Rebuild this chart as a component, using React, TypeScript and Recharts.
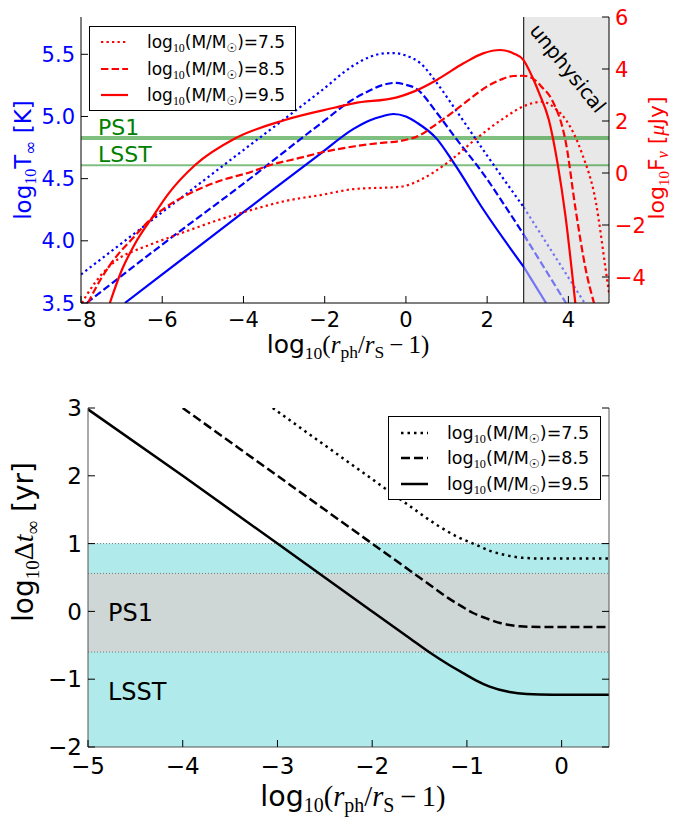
import React from "react";
import {
  ComposedChart,
  Line,
  XAxis,
  YAxis,
  ReferenceLine,
  ReferenceArea,
  Legend,
} from "recharts";

type Pt = [number, number];

const SANS = "'DejaVu Sans', sans-serif";
const SERIF = "'Liberation Serif', 'DejaVu Serif', serif";
const RED = "#ff0000";
const BLUE = "#0000ff";
const GREEN = "#008000";

// ---------- data ----------
const masses = ["7.5", "8.5", "9.5"];

// upper panel: x = log10(r_ph/r_S - 1)
const upperXTicks = [-8, -6, -4, -2, 0, 2, 4];
const tempTicks = [3.5, 4.0, 4.5, 5.0, 5.5];
const fluxTicks = [-4, -2, 0, 2, 4, 6];
const unphysicalFrom = 2.9;
const ps1Flux = 1.35;
const lsstFlux = 0.3;

// log10 T_inf [K]
const temp75: Pt[] = [
  [-8, 3.73], [-6, 4.23], [-4, 4.73], [-2.11, 5.2], [-1.29, 5.41], [-0.88, 5.48],
  [-0.6, 5.505], [-0.31, 5.51], [0, 5.49], [0.35, 5.43], [0.76, 5.27], [1.17, 5.08],
  [1.99, 4.69], [2.9, 4.27],
];
const temp85: Pt[] = [
  [-7.86, 3.5], [-6, 3.97], [-4, 4.46], [-2.11, 4.94], [-1.29, 5.14], [-0.88, 5.21],
  [-0.6, 5.25], [-0.27, 5.27], [0, 5.255], [0.27, 5.22], [0.76, 5.03], [1.17, 4.85],
  [1.99, 4.5], [2.4, 4.3], [2.9, 4.05],
];
const temp95: Pt[] = [
  [-6.92, 3.5], [-6, 3.73], [-4, 4.23], [-2.11, 4.7], [-1.29, 4.9], [-0.88, 4.97],
  [-0.6, 5.0], [-0.31, 5.02], [0, 5.0], [0.27, 4.95], [0.76, 4.82], [1.17, 4.63],
  [1.91, 4.25], [2.9, 3.79],
];
// continuation inside the unphysical region
const temp75Unphys: Pt[] = [[2.9, 4.27], [4.4, 3.5]];
const temp85Unphys: Pt[] = [[2.9, 4.05], [3.94, 3.5]];
const temp95Unphys: Pt[] = [[2.9, 3.79], [3.45, 3.5]];

// log10 F_nu [uJy]
const flux75: Pt[] = [
  [-7.98, -5], [-7.66, -4.23], [-7.34, -3.65], [-7.0, -3.22], [-6.7, -3.0], [-6.34, -2.78],
  [-5.44, -2.26], [-4.62, -1.81], [-3.8, -1.42], [-2.98, -1.08], [-2.11, -0.85],
  [-1.29, -0.62], [-0.14, -0.53], [0.35, -0.27], [1.0, 0.37], [1.74, 1.33], [2.4, 2.1],
  [2.98, 2.62], [3.35, 2.74], [3.7, 2.45], [3.94, 2.04], [4.33, 0.77], [4.68, -1.15],
  [4.92, -3.73], [5.0, -4.6],
];
const flux85: Pt[] = [
  [-7.83, -5], [-7.5, -4.05], [-7.15, -3.25], [-6.75, -2.55], [-6.26, -1.74], [-5.85, -1.25],
  [-5.44, -0.88], [-4.63, -0.33], [-3.8, 0.05], [-3.39, 0.28], [-2.56, 0.6], [-2.11, 0.78],
  [-1.74, 0.9], [-1.29, 1.02], [-0.6, 1.16], [-0.14, 1.23], [0.35, 1.46], [0.75, 1.88],
  [1.17, 2.36], [1.6, 2.88], [1.99, 3.32], [2.35, 3.6], [2.65, 3.73], [2.89, 3.74],
  [3.11, 3.65], [3.35, 3.3], [3.6, 2.8], [3.94, 1.15], [4.18, -1.42], [4.43, -3.73],
  [4.63, -5],
];
const flux95: Pt[] = [
  [-7.29, -5], [-7.0, -3.75], [-6.67, -2.72], [-6.26, -1.74], [-5.85, -0.8], [-5.19, 0.31],
  [-4.21, 1.33], [-2.98, 2.04], [-1.74, 2.52], [-1.29, 2.68], [-0.22, 2.91], [0.19, 3.13],
  [0.76, 3.58], [1.42, 4.22], [1.9, 4.6], [2.32, 4.73], [2.65, 4.6], [2.89, 4.35],
  [3.11, 3.7], [3.28, 3.07], [3.52, 2.04], [3.74, 0.31], [3.93, -1.68], [4.17, -5],
];

// lower panel
const lowerXTicks = [-5, -4, -3, -2, -1, 0];
const dtTicks = [-2, -1, 0, 1, 2, 3];
const lsstBand: Pt = [-2, 1];
const ps1Band: Pt = [-0.6, 0.56];

// log10 Delta t_inf [yr]
const dt75: Pt[] = [
  [-3.05, 3.0], [-2.5, 2.45], [-2, 1.95], [-1.6, 1.55], [-1.3, 1.26], [-1.1, 1.1],
  [-0.9, 0.98], [-0.75, 0.89], [-0.62, 0.84], [-0.41, 0.79], [-0.2, 0.78], [0.5, 0.78],
];
const dt85: Pt[] = [
  [-4.0, 3.0], [-3, 2.0], [-2, 1.0], [-1.6, 0.6], [-1.39, 0.39], [-1.2, 0.2], [-1.05, 0.07],
  [-0.94, -0.02], [-0.8, -0.1], [-0.65, -0.17], [-0.44, -0.22], [-0.2, -0.23], [0.5, -0.23],
];
const dt95: Pt[] = [
  [-5, 2.98], [-4, 2.0], [-3, 1.0], [-2, 0.0], [-1.6, -0.4], [-1.4, -0.6], [-1.2, -0.78],
  [-1.04, -0.91], [-0.9, -1.02], [-0.76, -1.11], [-0.55, -1.19], [-0.37, -1.22],
  [-0.1, -1.23], [0.5, -1.23],
];

const upperTemp = [temp75, temp85, temp95];
const upperTempUnphys = [temp75Unphys, temp85Unphys, temp95Unphys];
const upperFlux = [flux75, flux85, flux95];
const lowerDt = [dt75, dt85, dt95];

// ---------- helpers ----------
const rows = (pts: Pt[]) => pts.map(([x, y]) => ({ x, y }));
const minus = (s: string) => s.replace("-", "\u2212");
const upperDash = ["2.3 3.2", "7.4 3.2", undefined];
const lowerDash = ["2.5 4", "9 4", undefined];

// inward-pointing tick + label (matplotlib classic style)
function Tick(props: any) {
  const { x, y, payload, tkSide, tkDigits = 0, tkFont = 21, tkColor = "#000", tkGap = 0, tkLen = 7, tkLine = "#000", tkNoLabel } = props;
  const label = minus(Number(payload.value).toFixed(tkDigits));
  const txt = { fontFamily: SANS, fontSize: tkFont, fill: tkColor } as any;
  if (tkSide === "bottom") {
    return (
      <g>
        <line x1={x} x2={x} y1={y} y2={y - tkLen} stroke={tkLine} />
        {!tkNoLabel && (
          <text x={x} y={y + tkGap} textAnchor="middle" {...txt}>
            {label}
          </text>
        )}
      </g>
    );
  }
  if (tkSide === "top") {
    return <line x1={x} x2={x} y1={y} y2={y + tkLen} stroke={tkLine} />;
  }
  if (tkSide === "left") {
    return (
      <g>
        <line x1={x} x2={x + tkLen} y1={y} y2={y} stroke={tkLine} />
        <text x={x - tkGap} y={y + tkFont * 0.36} textAnchor="end" {...txt}>
          {label}
        </text>
      </g>
    );
  }
  return (
    <g>
      <line x1={x} x2={x - tkLen} y1={y} y2={y} stroke={tkLine} />
      {!tkNoLabel && (
        <text x={x + tkGap} y={y + tkFont * 0.36} textAnchor="start" {...txt}>
          {label}
        </text>
      )}
    </g>
  );
}

function MassLegend({ color, dashes, width, height, rowY, lineX, textX, fontSize, lw }: any) {
  return (
    <div
      style={{
        width,
        height,
        border: "1px solid #000",
        background: "#fff",
        boxSizing: "border-box",
        position: "relative",
        fontFamily: SANS,
      }}
    >
      {masses.map((m, i) => (
        <div key={m} style={{ position: "absolute", left: 0, top: rowY[i] - 13, height: 26, width: "100%" }}>
          <svg width={lineX[1] + 2} height={26} style={{ position: "absolute", left: 0, top: 0 }}>
            <line x1={lineX[0]} x2={lineX[1]} y1={13} y2={13} stroke={color} strokeWidth={lw} strokeDasharray={dashes[i]} />
          </svg>
          <span
            style={{
              position: "absolute",
              left: textX,
              top: 0,
              lineHeight: "26px",
              fontSize,
              color: "#000",
              whiteSpace: "nowrap",
            }}
          >
            log
            <span style={{ fontSize: "0.7em", fontFamily: SERIF, position: "relative", top: "0.3em" }}>10</span>
            (M/M
            <span style={{ fontSize: "0.7em", position: "relative", top: "0.3em" }}>☉</span>
            )={m}
          </span>
        </div>
      ))}
    </div>
  );
}

// ---------- titles ----------
const UpperTempTitle = () => (
  <text transform="translate(31,160) rotate(-90)" textAnchor="middle" fontFamily={SANS} fontSize={23} fill={BLUE}>
    log<tspan fontFamily={SERIF} fontSize={16} dy={5}>10</tspan>
    <tspan dy={-5}>T</tspan>
    <tspan fontSize={17} dy={5}>∞</tspan>
    <tspan dy={-5}> [K]</tspan>
  </text>
);

const UpperFluxTitle = () => (
  <text transform="translate(664,158) rotate(-90)" textAnchor="middle" fontFamily={SANS} fontSize={22} fill={RED}>
    log<tspan fontFamily={SERIF} fontSize={15} dy={5}>10</tspan>
    <tspan dy={-5}>F</tspan>
    <tspan fontFamily={SERIF} fontStyle="italic" fontSize={16} dy={4}>ν</tspan>
    <tspan dy={-4}> [</tspan>
    <tspan fontFamily={SERIF} fontStyle="italic">μ</tspan>
    <tspan>Jy]</tspan>
  </text>
);

const RadiusTitle = ({ cx, cy, size }: any) => (
  <text x={cx} y={cy} textAnchor="middle" fontFamily={SANS} fontSize={size} fill="#000">
    log<tspan fontFamily={SERIF} fontSize={size * 0.7} dy={size * 0.22}>10</tspan>
    <tspan fontFamily={SERIF} dy={-size * 0.22}>(</tspan>
    <tspan fontFamily={SERIF} fontStyle="italic">r</tspan>
    <tspan fontFamily={SERIF} fontSize={size * 0.7} dy={size * 0.2}>ph</tspan>
    <tspan fontFamily={SERIF} dy={-size * 0.2}>/</tspan>
    <tspan fontFamily={SERIF} fontStyle="italic">r</tspan>
    <tspan fontFamily={SERIF} fontSize={size * 0.7} dy={size * 0.2}>S</tspan>
    <tspan fontFamily={SERIF} dy={-size * 0.2}>{"\u2009\u2212\u20091)"}</tspan>
  </text>
);

const DtTitle = () => (
  <text transform="translate(33,172) rotate(-90)" textAnchor="middle" fontFamily={SANS} fontSize={28} fill="#000">
    log<tspan fontFamily={SERIF} fontSize={19} dy={6}>10</tspan>
    <tspan fontFamily={SERIF} dy={-6}>Δ</tspan>
    <tspan fontFamily={SERIF} fontStyle="italic">t</tspan>
    <tspan fontFamily={SERIF} fontSize={19} dy={6}>∞</tspan>
    <tspan dy={-6}> [yr]</tspan>
  </text>
);

const TextAt = ({ viewBox, dx, dy, text, color, size }: any) => (
  <text x={viewBox.x + dx} y={viewBox.y + dy} fontFamily={SANS} fontSize={size} fill={color}>
    {text}
  </text>
);

const UnphysicalLabel = ({ viewBox }: any) => (
  <text
    transform={`translate(${viewBox.x + 5},${viewBox.y + 14}) rotate(51)`}
    fontFamily={SANS}
    fontSize={20}
    fill="#000"
  >
    unphysical
  </text>
);

// ---------- panels ----------
function UpperPanel() {
  return (
    <ComposedChart width={673} height={370} margin={{ top: 17, right: 0, bottom: 0, left: 0 }}>
      <XAxis
        xAxisId="b"
        type="number"
        dataKey="x"
        domain={[-8, 5]}
        ticks={upperXTicks}
        interval={0}
        allowDataOverflow
        height={67}
        tickSize={0}
        tickMargin={0}
        tickLine={false}
        axisLine={{ stroke: "#000" }}
        tick={<Tick tkSide="bottom" tkGap={24} tkFont={21} />}
        label={<RadiusTitle cx={348} cy={353} size={25} />}
      />
      <XAxis
        xAxisId="t"
        orientation="top"
        type="number"
        dataKey="x"
        domain={[-8, 5]}
        ticks={upperXTicks}
        interval={0}
        allowDataOverflow
        height={0}
        tickSize={0}
        tickMargin={0}
        tickLine={false}
        axisLine={{ stroke: "#000" }}
        tick={<Tick tkSide="top" />}
      />
      <YAxis
        yAxisId="T"
        type="number"
        domain={[3.5, 5.8]}
        ticks={tempTicks}
        interval={0}
        allowDataOverflow
        width={81}
        tickSize={0}
        tickMargin={0}
        tickLine={false}
        axisLine={{ stroke: "#000" }}
        tick={<Tick tkSide="left" tkDigits={1} tkGap={6} tkFont={21} tkColor={BLUE} />}
        label={<UpperTempTitle />}
      />
      <YAxis
        yAxisId="F"
        orientation="right"
        type="number"
        domain={[-5, 6]}
        ticks={fluxTicks}
        interval={0}
        allowDataOverflow
        width={64}
        tickSize={0}
        tickMargin={0}
        tickLine={false}
        axisLine={{ stroke: "#000" }}
        tick={<Tick tkSide="right" tkGap={6} tkFont={21} tkColor={RED} />}
        label={<UpperFluxTitle />}
      />

      <ReferenceArea
        xAxisId="b"
        yAxisId="F"
        x1={unphysicalFrom}
        x2={5}
        fill="#e8e8e8"
        fillOpacity={1}
        stroke="none"
        label={<UnphysicalLabel />}
      />
      <ReferenceLine xAxisId="b" yAxisId="F" x={unphysicalFrom} stroke="#000" strokeWidth={1} />
      <ReferenceLine
        xAxisId="b"
        yAxisId="F"
        y={ps1Flux}
        stroke={GREEN}
        strokeOpacity={0.5}
        strokeWidth={4}
        label={<TextAt dx={17} dy={-3} text="PS1" color={GREEN} size={22} />}
      />
      <ReferenceLine
        xAxisId="b"
        yAxisId="F"
        y={lsstFlux}
        stroke={GREEN}
        strokeOpacity={0.5}
        strokeWidth={2}
        label={<TextAt dx={17} dy={-3} text="LSST" color={GREEN} size={22} />}
      />

      {upperTemp.map((pts, i) => (
        <Line
          key={`t${i}`}
          xAxisId="b"
          yAxisId="T"
          data={rows(pts)}
          dataKey="y"
          type="monotone"
          stroke={BLUE}
          strokeWidth={2.2}
          strokeDasharray={upperDash[i]}
          dot={false}
          activeDot={false}
          isAnimationActive={false}
        />
      ))}
      {upperTempUnphys.map((pts, i) => (
        <Line
          key={`tu${i}`}
          xAxisId="b"
          yAxisId="T"
          data={rows(pts)}
          dataKey="y"
          type="linear"
          stroke={BLUE}
          strokeOpacity={0.5}
          strokeWidth={2.2}
          strokeDasharray={upperDash[i]}
          dot={false}
          activeDot={false}
          isAnimationActive={false}
        />
      ))}
      {upperFlux.map((pts, i) => (
        <Line
          key={`f${i}`}
          xAxisId="b"
          yAxisId="F"
          data={rows(pts)}
          dataKey="y"
          type="monotone"
          stroke={RED}
          strokeWidth={2.2}
          strokeDasharray={upperDash[i]}
          dot={false}
          activeDot={false}
          isAnimationActive={false}
        />
      ))}

      <Legend
        layout="vertical"
        align="center"
        verticalAlign="middle"
        wrapperStyle={{ left: 89, top: 26, width: 207, height: 85 }}
        content={() => (
          <MassLegend
            color={RED}
            dashes={upperDash}
            width={207}
            height={85}
            rowY={[15, 42, 68]}
            lineX={[11, 38]}
            textX={57}
            fontSize={17}
            lw={2.2}
          />
        )}
      />
    </ComposedChart>
  );
}

function LowerPanel() {
  const frame = "#555";
  return (
    <ComposedChart width={673} height={447} margin={{ top: 38, right: 0, bottom: 0, left: 0 }}>
      <XAxis
        xAxisId="b"
        type="number"
        dataKey="x"
        domain={[-5, 0.5]}
        ticks={lowerXTicks}
        interval={0}
        allowDataOverflow
        height={70}
        tickSize={0}
        tickMargin={0}
        tickLine={false}
        axisLine={{ stroke: frame }}
        tick={<Tick tkSide="bottom" tkGap={27} tkFont={23} />}
        label={<RadiusTitle cx={353} cy={436} size={28.5} />}
      />
      <XAxis
        xAxisId="t"
        orientation="top"
        type="number"
        dataKey="x"
        domain={[-5, 0.5]}
        ticks={lowerXTicks}
        interval={0}
        allowDataOverflow
        height={0}
        tickSize={0}
        tickMargin={0}
        tickLine={false}
        axisLine={{ stroke: frame }}
        tick={<Tick tkSide="top" />}
      />
      <YAxis
        yAxisId="l"
        type="number"
        domain={[-2, 3]}
        ticks={dtTicks}
        interval={0}
        allowDataOverflow
        width={88}
        tickSize={0}
        tickMargin={0}
        tickLine={false}
        axisLine={{ stroke: frame }}
        tick={<Tick tkSide="left" tkGap={6} tkFont={23} />}
        label={<DtTitle />}
      />
      <YAxis
        yAxisId="r"
        orientation="right"
        type="number"
        domain={[-2, 3]}
        ticks={dtTicks}
        interval={0}
        allowDataOverflow
        width={64}
        tickSize={0}
        tickMargin={0}
        tickLine={false}
        axisLine={{ stroke: frame }}
        tick={<Tick tkSide="right" tkNoLabel />}
      />

      <ReferenceArea
        xAxisId="b"
        yAxisId="l"
        y1={lsstBand[0]}
        y2={lsstBand[1]}
        fill="#b0eaea"
        fillOpacity={1}
        stroke="none"
        label={<TextAt dx={20} dy={156} text="LSST" color="#000" size={24} />}
      />
      <ReferenceArea
        xAxisId="b"
        yAxisId="l"
        y1={ps1Band[0]}
        y2={ps1Band[1]}
        fill="#cfd6d6"
        fillOpacity={1}
        stroke="none"
        label={<TextAt dx={20} dy={48} text="PS1" color="#000" size={24} />}
      />
      {[lsstBand[1], ps1Band[1], ps1Band[0]].map((v) => (
        <ReferenceLine
          key={v}
          xAxisId="b"
          yAxisId="l"
          y={v}
          stroke="#777"
          strokeWidth={1}
          strokeDasharray="1 2"
        />
      ))}

      {lowerDt.map((pts, i) => (
        <Line
          key={`d${i}`}
          xAxisId="b"
          yAxisId="l"
          data={rows(pts)}
          dataKey="y"
          type="monotone"
          stroke="#000"
          strokeWidth={2.5}
          strokeDasharray={lowerDash[i]}
          dot={false}
          activeDot={false}
          isAnimationActive={false}
        />
      ))}

      <Legend
        layout="vertical"
        align="center"
        verticalAlign="middle"
        wrapperStyle={{ left: 388, top: 46, width: 213, height: 84 }}
        content={() => (
          <MassLegend
            color="#000"
            dashes={lowerDash}
            width={213}
            height={84}
            rowY={[16, 41, 67]}
            lineX={[12, 39]}
            textX={58}
            fontSize={17.5}
            lw={2.5}
          />
        )}
      />
    </ComposedChart>
  );
}

export default function App() {
  return (
    <div style={{ position: "absolute", left: 0, top: 0, width: 673, height: 817, background: "#fff" }}>
      <div style={{ position: "absolute", left: 0, top: 0 }}>
        <UpperPanel />
      </div>
      <div style={{ position: "absolute", left: 0, top: 370 }}>
        <LowerPanel />
      </div>
    </div>
  );
}
